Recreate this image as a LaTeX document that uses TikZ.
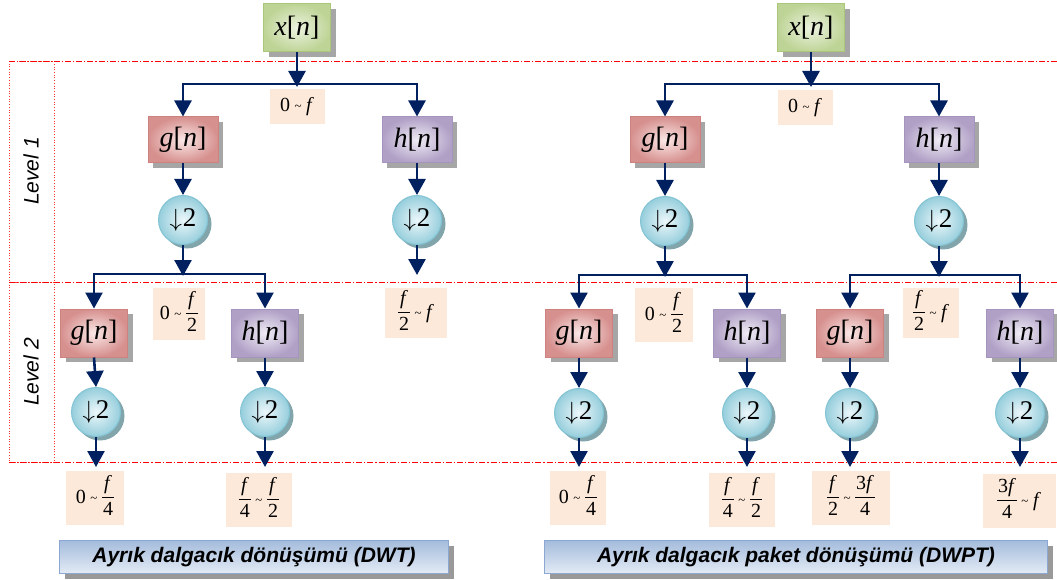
\documentclass[tikz,border=0pt]{standalone}
\usepackage{fontspec}
\setmainfont{Liberation Serif}
\newfontfamily\arial{Liberation Sans}
\usetikzlibrary{arrows.meta,shadows,calc}

\definecolor{navy}{RGB}{0,32,96}
\definecolor{peach}{RGB}{253,233,217}
\definecolor{grnedge}{RGB}{190,212,150}
\definecolor{grnmid}{RGB}{236,243,224}
\definecolor{grnline}{RGB}{170,198,120}
\definecolor{rededge}{RGB}{214,144,142}
\definecolor{redmid}{RGB}{250,232,231}
\definecolor{redline}{RGB}{205,130,128}
\definecolor{pured}{RGB}{176,160,198}
\definecolor{purmid}{RGB}{240,236,245}
\definecolor{purline}{RGB}{165,148,190}
\definecolor{cyedge}{RGB}{150,206,220}
\definecolor{cymid}{RGB}{236,247,250}
\definecolor{cyline}{RGB}{130,195,212}
\definecolor{cyshadow}{RGB}{130,165,172}
\definecolor{bartop}{RGB}{164,188,220}
\definecolor{barbot}{RGB}{228,235,245}
\definecolor{barline}{RGB}{140,168,210}

% signal name such as x[n], a small tilde, a stacked fraction, the down-sampler
\newcommand\sig[1]{{\itshape #1\/}[{\itshape n\/}]}
\newcommand\til{\hspace{4.5pt}\raisebox{1pt}{\fontsize{13}{13}\selectfont\textasciitilde}\hspace{4.5pt}}
\newcommand\fr[2]{{\setlength\arrayrulewidth{1pt}\setlength\tabcolsep{1pt}%
  \begin{tabular}[c]{c}#1\\[1pt]\hline\rule{0pt}{17pt}#2\end{tabular}}}
\newcommand\dn{$\downarrow$\hspace{1pt}2}

\tikzset{
  filtbox/.style={rectangle, inner sep=0pt, line width=1pt,
    font=\fontsize{28}{30}\selectfont,
    drop shadow={shadow xshift=5pt, shadow yshift=-5pt, fill=black!35, opacity=1}},
  xbox/.style={filtbox, minimum width=67pt, minimum height=48pt,
    shading=radial, inner color=grnmid, outer color=grnedge, draw=grnline},
  gbox/.style={filtbox, minimum width=70pt, minimum height=46pt,
    shading=radial, inner color=redmid, outer color=rededge, draw=redline},
  hbox/.style={filtbox, minimum width=70pt, minimum height=46pt,
    shading=radial, inner color=purmid, outer color=pured, draw=purline},
  dnsamp/.style={circle, minimum size=49pt, inner sep=0pt, line width=1pt,
    shading=radial, inner color=cymid, outer color=cyedge, draw=cyline,
    font=\fontsize{27}{28}\selectfont,
    drop shadow={shadow xshift=4pt, shadow yshift=-4pt, fill=cyshadow, opacity=1}},
  band/.style={rectangle, fill=peach, inner sep=0pt, font=\fontsize{20}{22}\selectfont},
  arr/.style={draw=navy, line width=2.6pt, -{Triangle[width=17pt,length=16pt]}},
  levline/.style={red, line width=0.7pt, dash pattern=on 6pt off 2pt on 1.2pt off 2pt},
  levbox/.style={red!80, line width=0.7pt, dotted},
  levtext/.style={rotate=90, font=\arial\itshape\fontsize{21}{23}\selectfont},
  titlebar/.style={rectangle, minimum height=33pt, inner sep=0pt, line width=1pt,
    top color=bartop, bottom color=barbot, draw=barline,
    font=\arial\bfseries\itshape\fontsize{21}{23}\selectfont,
    drop shadow={shadow xshift=5pt, shadow yshift=-5pt, fill=black!40, opacity=1}}
}

\begin{document}
\begin{tikzpicture}[x=1pt,y=-1pt]
\useasboundingbox (0,0) rectangle (1057,580);

% level frames
\draw[levbox] (9,61) rectangle (54,282);
\draw[levbox] (9,282) rectangle (54,462);
\draw[levline] (9,61) -- (1057,61);
\draw[levline] (9,282) -- (1057,282);
\draw[levline] (9,462) -- (1057,462);
\node[levtext] (lev1) at (31,171) {Level 1};
\node[levtext] (lev2) at (31,372) {Level 2};

% ---------------- DWT ----------------
\node[xbox] (xL) at (297,28) {\sig{x}};
\coordinate (bL) at (297,84);
\node[gbox] (g1L) at (183,140) {\sig{g}};
\node[hbox] (h1L) at (417,140) {\sig{h}};
\node[dnsamp] (d1La) at (183,220) {\dn};
\node[dnsamp] (d1Lb) at (417,220) {\dn};
\coordinate (bL2) at (183,274);
\coordinate (eL1) at (417,275);
\node[gbox, minimum width=67pt, minimum height=48pt] (g2L) at (94,333) {\sig{g}};
\node[hbox, minimum width=67pt, minimum height=48pt] (h2L) at (265,333) {\sig{h}};
\node[dnsamp] (d2La) at (96,412) {\dn};
\node[dnsamp] (d2Lb) at (265,412) {\dn};
\coordinate (eL2a) at (96,467);
\coordinate (eL2b) at (265,467);

\draw[arr] (xL.south) -- ([yshift=-3pt]bL);
\draw[arr] (bL) -| (g1L.north);
\draw[arr] (bL) -| (h1L.north);
\draw[arr] (g1L.south) -- (d1La.north);
\draw[arr] (h1L.south) -- (d1Lb.north);
\draw[arr] (d1La.south) -- ([yshift=-2pt]bL2);
\draw[arr] (d1Lb.south) -- (eL1);
\draw[arr] (bL2) -| (g2L.north);
\draw[arr] (bL2) -| (h2L.north);
\draw[arr] (g2L.south) -- (d2La.north);
\draw[arr] (h2L.south) -- (d2Lb.north);
\draw[arr] (d2La.south) -- (eL2a);
\draw[arr] (d2Lb.south) -- (eL2b);

\node[band, minimum width=55pt, minimum height=35pt] (fL0) at (297,107) {0\til\textit{f}};
\node[band, minimum width=52pt, minimum height=52pt] (fL1) at (179,314) {0\til\fr{\textit{f}}{2}};
\node[band, minimum width=62pt, minimum height=50pt] (fL2) at (416,313) {\fr{\textit{f}}{2}\til\textit{f}};
\node[band, minimum width=58pt, minimum height=54pt] (fL3) at (95,498) {0\til\fr{\textit{f}}{4}};
\node[band, minimum width=66pt, minimum height=54pt] (fL4) at (259,500) {\fr{\textit{f}}{4}\til\fr{\textit{f}}{2}};

\node[titlebar, minimum width=389pt] (tL) at (254,557) {Ayrık dalgacık dönüşümü (DWT)};

% ---------------- DWPT ----------------
\node[xbox] (xR) at (811,28) {\sig{x}};
\coordinate (bR) at (811,84);
\node[gbox] (g1R) at (665,140) {\sig{g}};
\node[hbox] (h1R) at (939,140) {\sig{h}};
\node[dnsamp] (d1Ra) at (665,221) {\dn};
\node[dnsamp] (d1Rb) at (939,221) {\dn};
\coordinate (bR2a) at (665,275);
\coordinate (bR2b) at (939,275);
\node[gbox, minimum width=67pt, minimum height=48pt] (g2Ra) at (579,333) {\sig{g}};
\node[hbox, minimum width=67pt, minimum height=48pt] (h2Ra) at (747,333) {\sig{h}};
\node[gbox, minimum width=67pt, minimum height=48pt] (g2Rb) at (850,333) {\sig{g}};
\node[hbox, minimum width=67pt, minimum height=48pt] (h2Rb) at (1020,333) {\sig{h}};
\node[dnsamp] (d2Ra) at (579,413) {\dn};
\node[dnsamp] (d2Rb) at (747,413) {\dn};
\node[dnsamp] (d2Rc) at (850,413) {\dn};
\node[dnsamp] (d2Rd) at (1020,413) {\dn};
\coordinate (eR2a) at (579,467);
\coordinate (eR2b) at (747,467);
\coordinate (eR2c) at (850,467);
\coordinate (eR2d) at (1020,467);

\draw[arr] (xR.south) -- ([yshift=-3pt]bR);
\draw[arr] (bR) -| (g1R.north);
\draw[arr] (bR) -| (h1R.north);
\draw[arr] (g1R.south) -- (d1Ra.north);
\draw[arr] (h1R.south) -- (d1Rb.north);
\draw[arr] (d1Ra.south) -- ([yshift=-2pt]bR2a);
\draw[arr] (d1Rb.south) -- ([yshift=-2pt]bR2b);
\draw[arr] (bR2a) -| (g2Ra.north);
\draw[arr] (bR2a) -| (h2Ra.north);
\draw[arr] (bR2b) -| (g2Rb.north);
\draw[arr] (bR2b) -| (h2Rb.north);
\draw[arr] (g2Ra.south) -- (d2Ra.north);
\draw[arr] (h2Ra.south) -- (d2Rb.north);
\draw[arr] (g2Rb.south) -- (d2Rc.north);
\draw[arr] (h2Rb.south) -- (d2Rd.north);
\draw[arr] (d2Ra.south) -- (eR2a);
\draw[arr] (d2Rb.south) -- (eR2b);
\draw[arr] (d2Rc.south) -- (eR2c);
\draw[arr] (d2Rd.south) -- (eR2d);

\node[band, minimum width=55pt, minimum height=35pt] (fR0) at (805,108) {0\til\textit{f}};
\node[band, minimum width=58pt, minimum height=54pt] (fR1) at (664,315) {0\til\fr{\textit{f}}{2}};
\node[band, minimum width=56pt, minimum height=50pt] (fR2) at (931,313) {\fr{\textit{f}}{2}\til\textit{f}};
\node[band, minimum width=56pt, minimum height=54pt] (fR3) at (578,498) {0\til\fr{\textit{f}}{4}};
\node[band, minimum width=66pt, minimum height=54pt] (fR4) at (742,500) {\fr{\textit{f}}{4}\til\fr{\textit{f}}{2}};
\node[band, minimum width=78pt, minimum height=54pt] (fR5) at (851,498) {\fr{\textit{f}}{2}\til\fr{3\textit{f}}{4}};
\node[band, minimum width=73pt, minimum height=54pt] (fR6) at (1019,501) {\fr{3\textit{f}}{4}\til\textit{f}};

\node[titlebar, minimum width=503pt] (tR) at (796,557) {Ayrık dalgacık paket dönüşümü (DWPT)};
\end{tikzpicture}
\end{document}
